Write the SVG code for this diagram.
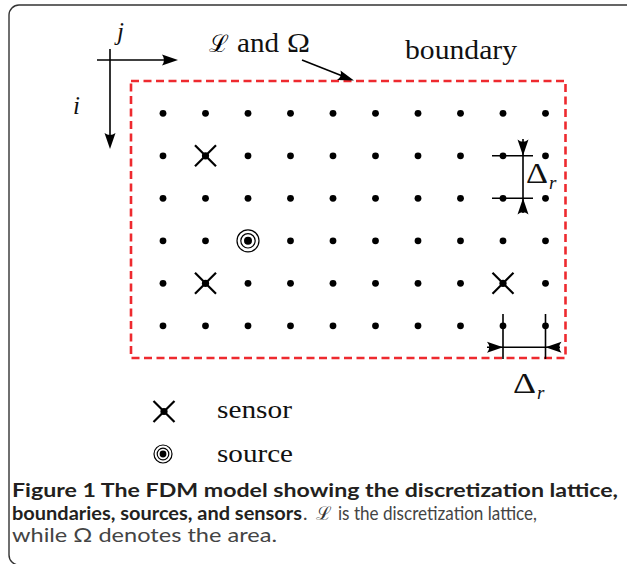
<svg xmlns="http://www.w3.org/2000/svg" width="627" height="564" viewBox="0 0 627 564">
<style>
.serif{font-family:"Liberation Serif","DejaVu Serif",serif;fill:#111}
.it{font-style:italic}
.script{font-family:"DejaVu Serif","Noto Sans",serif;font-style:italic}
.cap{font-family:Lato,"Open Sans",sans-serif;font-size:19px}
.capb{font-weight:bold;fill:#231f20}
.capr{fill:#444}
.dot{fill:#000}
.ln{stroke:#000;stroke-width:1.6;fill:none}
.x{stroke:#000;stroke-width:2.2;fill:none}
.ring{stroke:#000;stroke-width:1.2;fill:none}
.ah{fill:#000}
</style>
<defs>
<g id="dotg"><circle r="3.4" class="dot"/></g>
<g id="sensor"><path class="x" d="M-10.5,-10.5 L10.5,10.5 M-10.5,10.5 L10.5,-10.5"/><circle r="3.6" class="dot"/></g>
</defs>

<!-- frame -->
<path d="M627,5 H19 A10,10 0 0 0 9,15 V555 A10,10 0 0 0 19,565 H627" fill="none" stroke="#333" stroke-width="1.4"/>

<!-- boundary -->
<g id="boundary">
<rect x="131" y="81" width="434.5" height="277" fill="none" stroke="#ee2a2f" stroke-width="2.6" stroke-dasharray="8,4.5"/>
</g>

<!-- lattice -->
<g id="lattice">
<g id="row0">
<use href="#dotg" x="163" y="113.3"/><use href="#dotg" x="205.5" y="113.3"/><use href="#dotg" x="248" y="113.3"/><use href="#dotg" x="290.5" y="113.3"/><use href="#dotg" x="333" y="113.3"/><use href="#dotg" x="375.5" y="113.3"/><use href="#dotg" x="418" y="113.3"/><use href="#dotg" x="460.5" y="113.3"/><use href="#dotg" x="503" y="113.3"/><use href="#dotg" x="545.5" y="113.3"/>
</g>
<g id="row1">
<use href="#dotg" x="163" y="155.8"/><use href="#dotg" x="248" y="155.8"/><use href="#dotg" x="290.5" y="155.8"/><use href="#dotg" x="333" y="155.8"/><use href="#dotg" x="375.5" y="155.8"/><use href="#dotg" x="418" y="155.8"/><use href="#dotg" x="460.5" y="155.8"/><use href="#dotg" x="503" y="155.8"/><use href="#dotg" x="545.5" y="155.8"/>
</g>
<g id="row2">
<use href="#dotg" x="163" y="198.3"/><use href="#dotg" x="205.5" y="198.3"/><use href="#dotg" x="248" y="198.3"/><use href="#dotg" x="290.5" y="198.3"/><use href="#dotg" x="333" y="198.3"/><use href="#dotg" x="375.5" y="198.3"/><use href="#dotg" x="418" y="198.3"/><use href="#dotg" x="460.5" y="198.3"/><use href="#dotg" x="503" y="198.3"/><use href="#dotg" x="545.5" y="198.3"/>
</g>
<g id="row3">
<use href="#dotg" x="163" y="240.8"/><use href="#dotg" x="205.5" y="240.8"/><use href="#dotg" x="290.5" y="240.8"/><use href="#dotg" x="333" y="240.8"/><use href="#dotg" x="375.5" y="240.8"/><use href="#dotg" x="418" y="240.8"/><use href="#dotg" x="460.5" y="240.8"/><use href="#dotg" x="503" y="240.8"/><use href="#dotg" x="545.5" y="240.8"/>
</g>
<g id="row4">
<use href="#dotg" x="163" y="283.3"/><use href="#dotg" x="248" y="283.3"/><use href="#dotg" x="290.5" y="283.3"/><use href="#dotg" x="333" y="283.3"/><use href="#dotg" x="375.5" y="283.3"/><use href="#dotg" x="418" y="283.3"/><use href="#dotg" x="460.5" y="283.3"/><use href="#dotg" x="545.5" y="283.3"/>
</g>
<g id="row5">
<use href="#dotg" x="163" y="325.8"/><use href="#dotg" x="205.5" y="325.8"/><use href="#dotg" x="248" y="325.8"/><use href="#dotg" x="290.5" y="325.8"/><use href="#dotg" x="333" y="325.8"/><use href="#dotg" x="375.5" y="325.8"/><use href="#dotg" x="418" y="325.8"/><use href="#dotg" x="460.5" y="325.8"/><use href="#dotg" x="503" y="325.8"/><use href="#dotg" x="545.5" y="325.8"/>
</g>
</g>

<!-- sensors -->
<g id="sensor1"><use href="#sensor" x="205.5" y="155.8"/></g>
<g id="sensor2"><use href="#sensor" x="205.5" y="283.3"/></g>
<g id="sensor3"><use href="#sensor" x="503" y="283.3"/></g>

<!-- source -->
<g id="source1" transform="translate(248,240.8)">
<circle r="11" class="ring"/><circle r="7.2" class="ring"/><circle r="4" class="dot"/>
</g>

<!-- axes -->
<g id="axes">
<path class="ln" d="M97,60 H170"/>
<path class="ah" d="M178,60 L162,54.5 Q166,60 162,65.5 Z"/>
<path class="ln" d="M110,49 V140"/>
<path class="ah" d="M110,149 L104.5,133 Q110,137 115.5,133 Z"/>
<text class="serif it" x="117" y="40" font-size="25">j</text>
<text class="serif it" x="73" y="114" font-size="25">i</text>
</g>

<!-- labels -->
<g id="label-L">
<text class="script" x="209" y="52" font-size="24">ℒ</text>
<text class="serif" x="237" y="52" font-size="27" textLength="42" lengthAdjust="spacingAndGlyphs">and</text>
<text class="serif" x="287" y="52" font-size="27" textLength="23" lengthAdjust="spacingAndGlyphs">Ω</text>
</g>
<g id="connectors">
<path class="ln" d="M302,60 L345,77"/>
<path class="ah" d="M354,80.5 L340.5,70.5 Q342.5,76.5 337,80 Z"/>
</g>
<g id="label-boundary">
<text class="serif" x="405" y="59" font-size="27" textLength="112" lengthAdjust="spacingAndGlyphs">boundary</text>
</g>

<!-- vertical dimension -->
<g id="dim-v">
<path class="ln" d="M492,155.8 H533 M492,198.3 H533 M523,139 V213" stroke-width="1.4"/>
<path class="ah" d="M523,155.8 L517.5,139.5 Q523,144 528.5,139.5 Z"/>
<path class="ah" d="M523,198.3 L517.5,214.5 Q523,210 528.5,214.5 Z"/>
<text class="serif" x="526" y="183" font-size="30" textLength="22" lengthAdjust="spacingAndGlyphs">Δ</text>
<text class="serif it" x="549" y="189" font-size="19">r</text>
</g>

<!-- horizontal dimension -->
<g id="dim-h">
<path class="ln" d="M503,314 V359 M545.5,314 V359 M487,347.3 H560" stroke-width="1.4"/>
<path class="ah" d="M503,347.3 L487,341.8 Q491.5,347.3 487,352.8 Z"/>
<path class="ah" d="M545.5,347.3 L561.5,341.8 Q557,347.3 561.5,352.8 Z"/>
<text class="serif" x="513" y="393" font-size="30" textLength="23" lengthAdjust="spacingAndGlyphs">Δ</text>
<text class="serif it" x="537" y="399" font-size="19">r</text>
</g>

<!-- legend -->
<g id="legend-sensor">
<use href="#sensor" x="164" y="411.5"/>
<text class="serif" x="217" y="418" font-size="26" textLength="75" lengthAdjust="spacingAndGlyphs">sensor</text>
</g>
<g id="legend-source">
<g transform="translate(163,454)"><circle r="9" class="ring"/><circle r="5.8" class="ring"/><circle r="3.4" class="dot"/></g>
<text class="serif" x="217" y="462" font-size="26" textLength="76" lengthAdjust="spacingAndGlyphs">source</text>
</g>

<!-- caption -->
<g id="caption">
<text class="cap capb" x="12" y="497" textLength="606" lengthAdjust="spacingAndGlyphs">Figure 1 The FDM model showing the discretization lattice,</text>
<text class="cap capb" x="12" y="520" textLength="290" lengthAdjust="spacingAndGlyphs">boundaries, sources, and sensors</text>
<text class="cap capr" x="303" y="520">.</text>
<text class="script" x="316" y="520" font-size="19" fill="#333">ℒ</text>
<text class="cap capr" x="338" y="520" textLength="199" lengthAdjust="spacingAndGlyphs">is the discretization lattice,</text>
<text class="cap capr" x="12" y="542" textLength="265" lengthAdjust="spacingAndGlyphs">while Ω denotes the area.</text>
</g>
</svg>
